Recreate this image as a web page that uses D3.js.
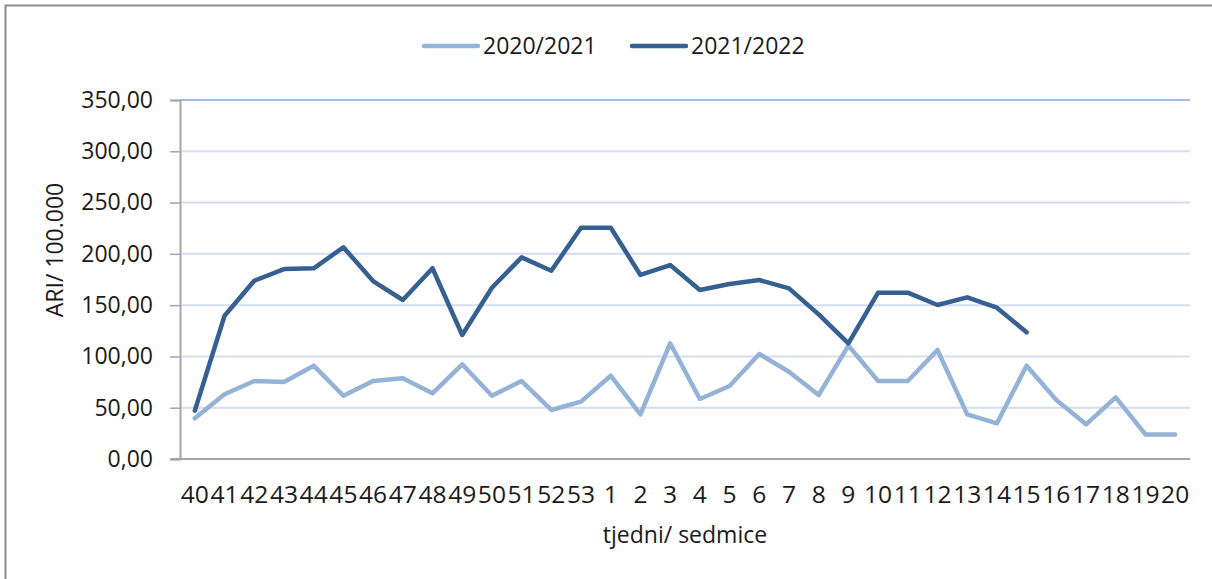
<!DOCTYPE html>
<html>
<head>
<meta charset="utf-8">
<script src="https://cdn.jsdelivr.net/npm/d3@7"></script>
<style>
  body { margin: 0; background: #fff; }
  svg text { font-family: "Open Sans", sans-serif; fill: #1a1a1a; }
</style>
</head>
<body>
<div id="chart"></div>
<script>
// week labels (season starts at week 40)
const weeks = ["40","41","42","43","44","45","46","47","48","49","50","51","52","53",
    "1","2","3","4","5","6","7","8","9","10","11","12","13","14","15","16","17","18","19","20"];

const season2021 = [39.7,63.1,76,75,91,61.7,76,78.7,64,92.3,61.7,76,47.8,55.9,
    81.2,43.5,112.8,58.5,71.2,102.4,85.1,62.4,110.5,76,76,106.3,43.5,34.8,91,57.5,33.8,60.1,24,24];

const season2122 = [47.1,139.7,173.8,185.2,185.9,206.4,173.5,155,186,120.9,167,196.6,183.6,225.5,
    225.5,179.4,189.1,164.8,170.6,174.5,166.4,141,112.8,162.2,162.2,150.1,157.6,147.5,123.5];

const yTicks = [0,50,100,150,200,250,300,350];

const seriesNames = ["2020/2021", "2021/2022"];
const seriesColors = ["#95b3d7", "#376092"];

const width = 1212, height = 579;
const margin = {top: 100, right: 22, bottom: 120, left: 180};

const svg = d3.select("#chart").append("svg")
    .attr("width", width)
    .attr("height", height);

// chart frame (only top/left visible in the picture)
svg.append("rect")
    .attr("x", 5.5).attr("y", 5.5)
    .attr("width", width + 20).attr("height", height + 20)
    .attr("fill", "none")
    .attr("stroke", "#8c8c8c")
    .attr("stroke-width", 2);

const x = d3.scaleBand()
    .domain(weeks)
    .range([margin.left, width - margin.right]);

const y = d3.scaleLinear()
    .domain([0, 350])
    .range([459, 100]);

const fmt = d => d3.format(".2f")(d).replace(".", ",");

// gridlines
svg.append("g")
    .selectAll("line")
    .data(yTicks.filter(d => d > 0))
    .enter().append("line")
    .attr("x1", margin.left)
    .attr("x2", width - margin.right)
    .attr("y1", d => y(d))
    .attr("y2", d => y(d))
    .attr("stroke", d => d === 350 ? "#a3bbe6" : "#d3def3")
    .attr("stroke-width", 2);

// y axis
const yAxis = svg.append("g")
    .attr("transform", "translate(" + margin.left + ",0)")
    .call(d3.axisLeft(y).tickValues(yTicks).tickFormat(fmt).tickSize(10).tickPadding(17));
yAxis.select(".domain").attr("stroke", "#a6a6a6").attr("stroke-width", 2);
yAxis.selectAll(".tick line").attr("stroke", "#a6a6a6").attr("stroke-width", 1.5);
yAxis.selectAll(".tick text")
    .style("font-size", "23px")
    .style("font-family", "'Open Sans', sans-serif")
    .attr("fill", "#1a1a1a");

// x axis
const xAxis = svg.append("g")
    .attr("transform", "translate(0," + y(0) + ")")
    .call(d3.axisBottom(x).tickSize(0).tickPadding(0));
xAxis.select(".domain").attr("d", "M" + (margin.left - 10) + ",0H" + (width - margin.right))
    .attr("stroke", "#a6a6a6").attr("stroke-width", 2);
xAxis.selectAll(".tick text")
    .attr("y", null).attr("dy", null)
    .attr("transform", "translate(0,44) scale(1.07,1)")
    .style("font-size", "23px")
    .style("font-family", "'Open Sans', sans-serif")
    .attr("fill", "#1a1a1a");

// axis titles
svg.append("text")
    .attr("x", (margin.left + width - margin.right) / 2)
    .attr("y", 543)
    .attr("text-anchor", "middle")
    .style("font-size", "23px")
    .text("tjedni/ sedmice");

svg.append("text")
    .attr("transform", "translate(63,250) rotate(-90)")
    .attr("text-anchor", "middle")
    .style("font-size", "23px")
    .text("ARI/ 100.000");

// lines
const line = d3.line()
    .x((d, i) => x(weeks[i]) + x.bandwidth() / 2)
    .y(d => y(d));

[season2021, season2122].forEach((s, i) => {
    svg.append("path")
        .datum(s)
        .attr("fill", "none")
        .attr("stroke", seriesColors[i])
        .attr("stroke-width", 4.5)
        .attr("stroke-linejoin", "round")
        .attr("stroke-linecap", "round")
        .attr("d", line);
});

// legend
const legend = svg.append("g")
    .selectAll("g")
    .data(seriesNames)
    .enter().append("g")
    .attr("transform", (d, i) => "translate(" + (424 + i * 208) + ",46)");

legend.append("line")
    .attr("x1", 0).attr("x2", 54)
    .attr("stroke", (d, i) => seriesColors[i])
    .attr("stroke-width", 4.5)
    .attr("stroke-linecap", "round");

legend.append("text")
    .attr("x", 59)
    .attr("dy", "0.35em")
    .style("font-size", "23px")
    .text(d => d);
</script>
</body>
</html>
